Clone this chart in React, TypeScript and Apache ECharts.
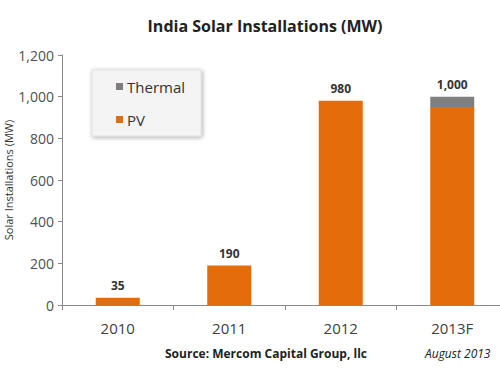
import React, { useEffect, useRef } from "react";
import * as echarts from "echarts";

const categories = ["2010", "2011", "2012", "2013F"];
const pvValues = [35, 190, 980, 950];
const thermalValues = [0, 0, 0, 50];
const totalLabels = ["35", "190", "980", "1,000"];
const yTicks = [0, 200, 400, 600, 800, 1000, 1200];

const FONT = "'Open Sans', 'DejaVu Sans', sans-serif";

export default function App() {
  const ref = useRef<HTMLDivElement>(null);
  useEffect(() => {
    if (!ref.current) return;
    const chart = echarts.init(ref.current, undefined, { renderer: "svg" });
    chart.setOption({
      animation: false,
      backgroundColor: "#ffffff",
      title: {
        text: "India Solar Installations (MW)",
        left: 260,
        top: 13,
        textAlign: "center",
        textStyle: { fontFamily: FONT, fontSize: 16, fontWeight: "bold", color: "#222" },
      },
      legend: {
        data: ["Thermal", "PV"],
        orient: "vertical",
        left: 92,
        top: 70,
        padding: [9, 16, 9, 24],
        itemWidth: 7,
        itemHeight: 7,
        itemGap: 18,
        backgroundColor: "#f4f4f4",
        borderColor: "#e0e0e0",
        borderWidth: 1,
        shadowColor: "rgba(0,0,0,0.35)",
        shadowBlur: 4,
        shadowOffsetX: 1,
        shadowOffsetY: 1,
        textStyle: { fontFamily: FONT, fontSize: 15, color: "#333", padding: [0, 0, 0, -1] },
        icon: "rect",
      },
      grid: {
        left: 62,
        top: 55,
        width: 446,
        height: 250,
        containLabel: false,
        outerBoundsMode: "none",
      },
      xAxis: {
        type: "category",
        data: categories,
        axisLine: { lineStyle: { color: "#8a8a8a" } },
        axisTick: { show: true, length: 5, lineStyle: { color: "#8a8a8a" } },
        axisLabel: { fontFamily: FONT, fontSize: 15, color: "#404040", margin: 15 },
      },
      yAxis: {
        type: "value",
        min: 0,
        max: 1200,
        interval: 200,
        name: "Solar Installations (MW)",
        nameLocation: "middle",
        nameGap: 48,
        nameMoveOverlap: false,
        nameTextStyle: { fontFamily: FONT, fontSize: 11, color: "#333" },
        axisLine: { show: true, lineStyle: { color: "#8a8a8a" } },
        axisTick: { show: true, length: 4, lineStyle: { color: "#8a8a8a" } },
        splitLine: { show: false },
        axisLabel: {
          fontFamily: FONT,
          fontSize: 14,
          color: "#505050",
          margin: 8,
          formatter: (v: number) => (yTicks.includes(v) ? v.toLocaleString("en-US") : ""),
        },
      },
      series: [
        {
          name: "PV",
          type: "bar",
          stack: "total",
          data: pvValues,
          barWidth: 44,
          itemStyle: { color: "#E46C0A" },
        },
        {
          name: "Thermal",
          type: "bar",
          stack: "total",
          data: thermalValues,
          barWidth: 44,
          itemStyle: { color: "#7F7F7F" },
          label: {
            show: true,
            position: "top",
            distance: 6,
            fontFamily: FONT,
            fontSize: 12,
            fontWeight: "bold",
            color: "#333",
            formatter: (p: any) => totalLabels[p.dataIndex],
          },
        },
      ],
      graphic: [
        {
          type: "text",
          x: 165,
          y: 347,
          style: {
            text: "Source: Mercom Capital Group, llc",
            font: `bold 12px ${FONT}`,
            fill: "#222",
          },
        },
        {
          type: "text",
          x: 425,
          y: 347,
          style: {
            text: "August 2013",
            font: `italic 12px ${FONT}`,
            fill: "#222",
          },
        },
      ],
    });
    return () => chart.dispose();
  }, []);
  return <div ref={ref} style={{ width: 500, height: 375, position: "absolute", left: 0, top: 0 }} />;
}
